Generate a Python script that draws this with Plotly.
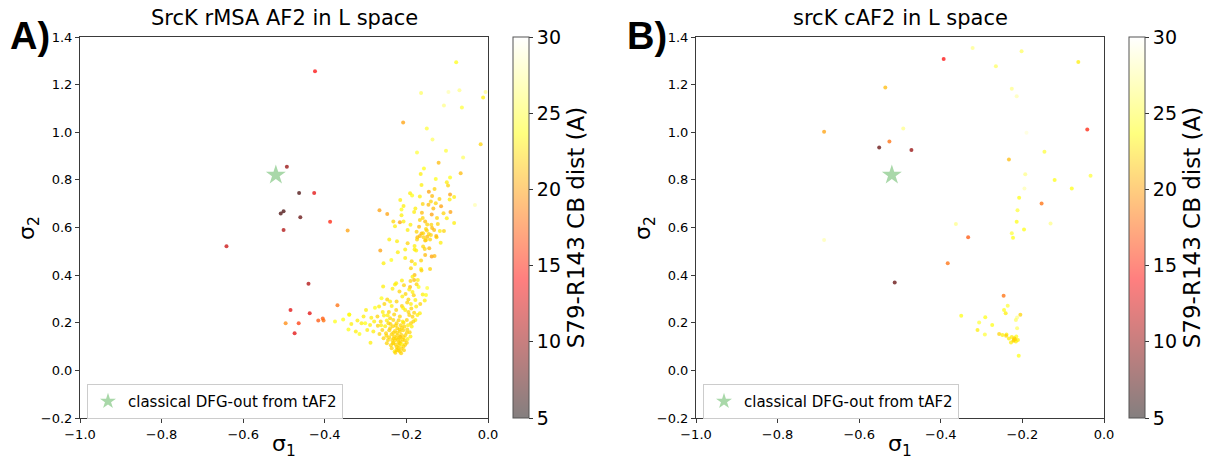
import plotly.graph_objects as go

# ---------------- Panel A: SrcK rMSA AF2 (sigma1, sigma2, S79-R143 CB distance) ----------------
a_sigma1 = [
    -0.424, -0.493, -0.463, -0.426, -0.501, -0.508, -0.460, -0.387, -0.501, -0.641,
    -0.344, -0.440, -0.484, -0.437, -0.496, -0.464, -0.474, -0.416, -0.405, -0.403,
    -0.369, -0.340, -0.375,
    -0.078, -0.006, -0.012, -0.070, -0.097, -0.164, -0.108, -0.064, -0.208, -0.150,
    -0.136, -0.018, -0.103, -0.174, -0.121, -0.061, -0.067, -0.157, -0.093, -0.032,
    -0.165, -0.128, -0.163, -0.101, -0.098, -0.145, -0.131, -0.191, -0.186, -0.167,
    -0.137, -0.093, -0.083, -0.119, -0.215, -0.140, -0.094, -0.160, -0.146, -0.128,
    -0.115, -0.207, -0.212, -0.266, -0.247, -0.181, -0.162, -0.138, -0.092, -0.212,
    -0.232, -0.216, -0.207, -0.167, -0.154, -0.149, -0.139, -0.101, -0.083, -0.228,
    -0.169, -0.152, -0.132, -0.118, -0.108, -0.197, -0.175, -0.163, -0.145, -0.173,
    -0.158, -0.242, -0.223, -0.174, -0.154, -0.142, -0.126, -0.116, -0.203, -0.180,
    -0.155, -0.144, -0.264, -0.221, -0.203, -0.164, -0.138, -0.131, -0.256, -0.237,
    -0.187, -0.179, -0.189, -0.164, -0.180,
    -0.197, -0.180, -0.159, -0.154, -0.142, -0.185, -0.167, -0.159, -0.149, -0.140,
    -0.152, -0.127, -0.176, -0.163, -0.225, -0.150, -0.137, -0.123, -0.160, -0.178,
    -0.134, -0.109, -0.190, -0.125,
    -0.190, -0.172, -0.181, -0.211, -0.228, -0.206, -0.191, -0.170, -0.149, -0.257,
    -0.234, -0.217, -0.185, -0.202, -0.160, -0.261, -0.247, -0.152, -0.240, -0.224,
    -0.210, -0.195, -0.178, -0.155, -0.267, -0.254, -0.211, -0.189, -0.166, -0.277,
    -0.299, -0.258, -0.243, -0.225, -0.203, -0.181, -0.167, -0.340, -0.305, -0.286,
    -0.271, -0.255, -0.240, -0.216, -0.193, -0.173, -0.355, -0.320, -0.301, -0.279,
    -0.263, -0.248, -0.232, -0.199, -0.178, -0.335, -0.310, -0.289, -0.270, -0.244,
    -0.224, -0.207, -0.189, -0.342, -0.324, -0.296, -0.281, -0.259, -0.240, -0.222,
    -0.205, -0.187, -0.315, -0.266, -0.250, -0.232, -0.216, -0.199, -0.288, -0.256,
    -0.242, -0.225, -0.207, -0.190, -0.248, -0.232, -0.216, -0.199, -0.236, -0.220,
    -0.207, -0.229, -0.216, -0.224,
    -0.228, -0.221, -0.214, -0.226, -0.218, -0.211, -0.230, -0.222, -0.213, -0.235,
    -0.219, -0.224, -0.212, -0.238, -0.204, -0.208, -0.217, -0.228, -0.236, -0.245,
    -0.203, -0.197, -0.226, -0.214, -0.233, -0.252, -0.198, -0.192, -0.209, -0.219,
    -0.196, -0.183, -0.215, -0.223, -0.231, -0.209, -0.242, -0.249, -0.220, -0.227,
    -0.213, -0.206, -0.233, -0.217, -0.211, -0.203, -0.239, -0.262, -0.185, -0.195,
    -0.208, -0.230, -0.246, -0.188, -0.176, -0.198, -0.182, -0.236, -0.193, -0.175,
]
a_sigma2 = [
    1.256, 0.855, 0.745, 0.745, 0.668, 0.659, 0.643, 0.624, 0.589, 0.521,
    0.587, 0.364, 0.254, 0.240, 0.198, 0.198, 0.156, 0.209, 0.218, 0.209,
    0.274, 0.235, 0.205,
    1.294, 1.169, 1.146, 1.176, 1.169, 1.165, 1.112, 1.104, 1.041, 1.016,
    0.970, 0.950, 0.922, 0.915, 0.872, 0.894, 0.828, 0.848, 0.810, 0.694,
    0.825, 0.804, 0.779, 0.790, 0.776, 0.750, 0.762, 0.744, 0.734, 0.730,
    0.732, 0.739, 0.728, 0.720, 0.716, 0.709, 0.718, 0.699, 0.696, 0.702,
    0.689, 0.690, 0.676, 0.672, 0.657, 0.665, 0.662, 0.655, 0.665, 0.651,
    0.625, 0.622, 0.625, 0.632, 0.625, 0.613, 0.612, 0.639, 0.619, 0.605,
    0.603, 0.594, 0.590, 0.585, 0.585, 0.590, 0.582, 0.575, 0.573, 0.559,
    0.559, 0.550, 0.542, 0.550, 0.545, 0.550, 0.559, 0.536, 0.508, 0.508,
    0.510, 0.513, 0.503, 0.496, 0.472, 0.461, 0.478, 0.480, 0.450, 0.464,
    0.458, 0.447, 0.429, 0.426, 0.401,
    0.534, 0.522, 0.520, 0.485, 0.426, 0.393, 0.564, 0.576, 0.561, 0.569,
    0.548, 0.564, 0.503, 0.419, 0.366, 0.587, 0.598, 0.615, 0.640, 0.680,
    0.680, 0.660, 0.612, 0.640,
    0.375, 0.380, 0.380, 0.377, 0.361, 0.357, 0.350, 0.350, 0.346, 0.352,
    0.343, 0.331, 0.329, 0.321, 0.319, 0.303, 0.298, 0.317, 0.289, 0.289,
    0.310, 0.298, 0.296, 0.293, 0.268, 0.279, 0.270, 0.279, 0.279, 0.263,
    0.254, 0.245, 0.245, 0.254, 0.254, 0.242, 0.240, 0.234, 0.226, 0.221,
    0.226, 0.230, 0.219, 0.226, 0.233, 0.233, 0.214, 0.209, 0.198, 0.205,
    0.205, 0.209, 0.212, 0.212, 0.212, 0.195, 0.198, 0.191, 0.187, 0.198,
    0.198, 0.200, 0.198, 0.172, 0.163, 0.170, 0.163, 0.170, 0.177, 0.177,
    0.184, 0.184, 0.153, 0.153, 0.156, 0.158, 0.163, 0.158, 0.116, 0.135,
    0.139, 0.135, 0.139, 0.142, 0.114, 0.114, 0.114, 0.116, 0.093, 0.093,
    0.100, 0.079, 0.079, 0.086,
    0.125, 0.130, 0.122, 0.108, 0.104, 0.110, 0.142, 0.148, 0.150, 0.128,
    0.118, 0.098, 0.092, 0.105, 0.125, 0.168, 0.172, 0.165, 0.152, 0.128,
    0.148, 0.132, 0.188, 0.190, 0.185, 0.185, 0.172, 0.160, 0.205, 0.210,
    0.190, 0.205, 0.140, 0.158, 0.134, 0.130, 0.168, 0.145, 0.085, 0.074,
    0.072, 0.085, 0.115, 0.136, 0.178, 0.108, 0.195, 0.190, 0.225, 0.245,
    0.262, 0.235, 0.232, 0.260, 0.268, 0.285, 0.315, 0.270, 0.340, 0.362,
]
a_dist = [
    14, 10, 7, 13, 7, 7, 8, 15, 11, 12,
    20, 11, 13, 13, 19, 16, 13, 17, 17, 18,
    18, 23, 24,
    24, 27, 23, 27, 28, 26, 27, 25, 20, 25,
    26, 22, 25, 25, 21, 26, 21, 24, 24, 28,
    23, 24, 23, 23, 22, 20, 22, 23, 24, 23,
    21, 20, 23, 22, 23, 22, 23, 22, 21, 22,
    20, 23, 24, 20, 20, 23, 21, 20, 20, 23,
    22, 20, 23, 22, 21, 22, 22, 23, 23, 23,
    21, 22, 21, 23, 22, 23, 22, 21, 22, 21,
    22, 23, 23, 22, 21, 22, 22, 23, 23, 23,
    22, 21, 20, 23, 23, 22, 20, 21, 23, 24,
    22, 23, 22, 23, 21,
    22, 23, 22, 21, 22, 23, 21, 22, 21, 22,
    22, 21, 23, 22, 23, 22, 21, 22, 22, 23,
    21, 22, 23, 22,
    22, 23, 21, 23, 23, 22, 21, 24, 25, 23,
    23, 22, 23, 22, 23, 24, 22, 24, 23, 22,
    23, 22, 23, 23, 23, 22, 22, 23, 22, 24,
    23, 23, 22, 22, 23, 22, 23, 24, 23, 23,
    22, 23, 22, 22, 22, 23, 24, 23, 24, 23,
    22, 23, 22, 22, 23, 23, 23, 23, 22, 22,
    22, 22, 22, 24, 23, 23, 23, 22, 22, 22,
    22, 23, 24, 22, 22, 22, 22, 22, 23, 22,
    22, 22, 22, 23, 22, 22, 22, 22, 22, 22,
    22, 23, 22, 22,
    22, 22, 22, 22, 22, 23, 22, 22, 22, 22,
    22, 22, 22, 22, 22, 22, 22, 22, 22, 22,
    22, 23, 22, 22, 22, 23, 22, 22, 23, 22,
    23, 22, 21, 22, 22, 22, 22, 22, 22, 22,
    22, 22, 22, 22, 22, 22, 22, 23, 22, 22,
    23, 22, 23, 22, 23, 22, 22, 23, 23, 22,
]

# ---------------- Panel B: srcK cAF2 ----------------
b_sigma1 = [
    -0.393, -0.322, -0.202, -0.063, -0.265, -0.536, -0.226, -0.214, -0.686, -0.492,
    -0.526, -0.190, -0.041, -0.551, -0.472, -0.146, -0.233, -0.193, -0.121, -0.033,
    -0.079, -0.195, -0.208, -0.153, -0.212, -0.363, -0.214, -0.131, -0.226, -0.196,
    -0.223, -0.333, -0.686, -0.383, -0.513, -0.246, -0.236, -0.245, -0.241, -0.205,
    -0.350, -0.213, -0.291, -0.306, -0.274, -0.216, -0.213, -0.310, -0.292, -0.257,
    -0.249, -0.239, -0.240, -0.226, -0.215, -0.221, -0.216, -0.228, -0.211, -0.220,
    -0.209, -0.233, -0.222, -0.218,
]
b_sigma2 = [
    1.308, 1.354, 1.340, 1.295, 1.277, 1.188, 1.183, 1.151, 1.002, 1.016,
    0.961, 0.998, 1.012, 0.936, 0.925, 0.918, 0.886, 0.824, 0.799, 0.817,
    0.764, 0.764, 0.725, 0.701, 0.672, 0.615, 0.624, 0.617, 0.576, 0.592,
    0.557, 0.559, 0.548, 0.450, 0.369, 0.313, 0.271, 0.254, 0.240, 0.234,
    0.229, 0.222, 0.223, 0.201, 0.191, 0.212, 0.177, 0.170, 0.151, 0.153,
    0.149, 0.151, 0.145, 0.140, 0.142, 0.128, 0.121, 0.117, 0.128, 0.135,
    0.061, 0.134, 0.124, 0.131,
]
b_dist = [
    14, 27, 26, 23, 26, 21, 27, 28, 20, 27,
    18, 29, 15, 8, 10, 25, 21, 27, 24, 25,
    24, 28, 24, 18, 25, 27, 24, 27, 25, 24,
    24, 17, 28, 18, 8, 18, 25, 24, 23, 22,
    24, 27, 24, 25, 24, 26, 26, 23, 25, 22,
    23, 23, 22, 23, 24, 22, 23, 23, 23, 22,
    24, 23, 22, 22,
]

# reference structure (classical DFG-out from tAF2)
ref_sigma1 = [-0.52]
ref_sigma2 = [0.82]
ref_label = "classical DFG-out from tAF2"

panel_titles = ["SrcK rMSA AF2 in L space", "srcK cAF2 in L space"]
panel_tags = ["A)", "B)"]
cbar_title = "S79-R143 CB dist (A)"
dist_min, dist_max = 5, 30
cbar_ticks = [5, 10, 15, 20, 25, 30]
x_ticks = [-1.0, -0.8, -0.6, -0.4, -0.2, 0.0]
y_ticks = [-0.2, 0.0, 0.2, 0.4, 0.6, 0.8, 1.0, 1.2, 1.4]

# 'hot' colour map for the markers, and the same map washed with white for the colour bar
hot = [[0.0, "rgb(10,0,0)"], [0.365, "rgb(255,0,0)"],
       [0.746, "rgb(255,255,0)"], [1.0, "rgb(255,255,255)"]]
hot_soft = [[0.0, "rgb(132,127,127)"], [0.365, "rgb(255,127,127)"],
            [0.746, "rgb(255,255,127)"], [1.0, "rgb(255,255,255)"]]

W, H = 1205, 462
FONT = "DejaVu Sans"
AX_COLOR = "#3a3a3a"

# pixel layout of the two panels
panels = [
    dict(left=80, right=488, cbar=513, tag_x=8, ylab_x=29),
    dict(left=696, right=1104, cbar=1129, tag_x=625, ylab_x=645),
]
top_px, bot_px = 37, 418

fig = go.Figure()
data_sets = [(a_sigma1, a_sigma2, a_dist), (b_sigma1, b_sigma2, b_dist)]

for i, (s1, s2, d) in enumerate(data_sets):
    sfx = "" if i == 0 else str(i + 1)
    xa, ya = "x" + sfx, "y" + sfx
    p = panels[i]
    fig.add_trace(go.Scatter(
        x=s1, y=s2, mode="markers", xaxis=xa, yaxis=ya, showlegend=False,
        marker=dict(size=4, color=d, cmin=dist_min, cmax=dist_max,
                    colorscale=hot, opacity=0.72, line=dict(width=0)),
    ))
    # colour bar
    fig.add_trace(go.Scatter(
        x=[None], y=[None], mode="markers", xaxis=xa, yaxis=ya, showlegend=False,
        hoverinfo="skip",
        marker=dict(size=0, color=[dist_min], cmin=dist_min, cmax=dist_max,
                    colorscale=hot_soft, showscale=True,
                    colorbar=dict(
                        x=p["cbar"] / W, xanchor="left", xref="paper", xpad=0,
                        y=1 - (top_px + bot_px) / 2 / H, yanchor="middle", ypad=0,
                        len=bot_px - top_px, lenmode="pixels",
                        thickness=16, thicknessmode="pixels",
                        outlinewidth=1, outlinecolor="#555555",
                        ticks="outside", ticklen=4, tickcolor="#333333",
                        tickvals=cbar_ticks, tickfont=dict(family=FONT, size=19, color="black"),
                        title=dict(text=cbar_title, side="right",
                                   font=dict(family=FONT, size=23, color="black")),
                    )),
    ))
    # reference star
    fig.add_trace(go.Scatter(
        x=ref_sigma1, y=ref_sigma2, mode="markers", xaxis=xa, yaxis=ya,
        name=ref_label, legend="legend" if i == 0 else "legend2",
        marker=dict(symbol="star", size=15, color="#a9d8a9", line=dict(width=0)),
    ))

axis_common = dict(showgrid=False, zeroline=False, showline=True, mirror=True,
                   automargin=False,
                   linecolor=AX_COLOR, linewidth=1, ticks="outside", ticklen=4,
                   tickcolor=AX_COLOR, tickfont=dict(family=FONT, size=13, color="black"))

layout = dict(
    width=W, height=H, margin=dict(l=0, r=0, t=0, b=0, autoexpand=False),
    paper_bgcolor="white", plot_bgcolor="white",
    font=dict(family=FONT, color="black"),
)
ydom = [1 - bot_px / H, 1 - top_px / H]
annotations = []
for i, p in enumerate(panels):
    sfx = "" if i == 0 else str(i + 1)
    layout["xaxis" + sfx] = dict(axis_common, domain=[p["left"] / W, p["right"] / W],
                                 range=[-1.0, 0.0], tickvals=x_ticks, tickformat=".1f",
                                 anchor="y" + sfx)
    layout["yaxis" + sfx] = dict(axis_common, domain=ydom, range=[-0.2, 1.4],
                                 tickvals=y_ticks, tickformat=".1f", anchor="x" + sfx)
    cx = (p["left"] + p["right"]) / 2 / W
    annotations += [
        dict(text=panel_titles[i], x=cx, y=1 - 18 / H, xref="paper", yref="paper",
             showarrow=False, xanchor="center", yanchor="middle",
             font=dict(family=FONT, size=21)),
        dict(text="<b>%s</b>" % panel_tags[i], x=p["tag_x"] / W, y=1 - 36 / H,
             xref="paper", yref="paper", showarrow=False, xanchor="left",
             yanchor="middle", font=dict(family="Liberation Sans", size=38)),
        dict(text="σ<sub>1</sub>", x=cx, y=1 - 445 / H, xref="paper", yref="paper",
             showarrow=False, xanchor="center", yanchor="middle",
             font=dict(family=FONT, size=22)),
        dict(text="σ<sub>2</sub>", x=p["ylab_x"] / W, y=1 - 228 / H, xref="paper",
             yref="paper", showarrow=False, xanchor="center", yanchor="middle",
             textangle=-90, font=dict(family=FONT, size=22)),
    ]
    leg = dict(x=(p["left"] + 7) / W, y=1 - 384 / H, xanchor="left", yanchor="top",
               bgcolor="white", bordercolor="#cccccc", borderwidth=1,
               font=dict(family=FONT, size=15), itemsizing="constant")
    layout["legend" if i == 0 else "legend2"] = leg
layout["annotations"] = annotations
fig.update_layout(**layout)

fig.write_html("out.html")
